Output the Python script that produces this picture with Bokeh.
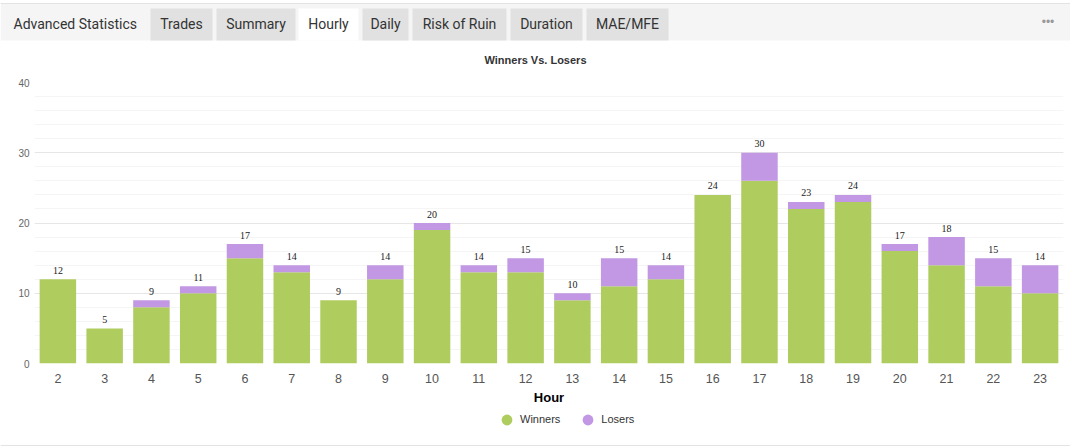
from bokeh.plotting import figure
from bokeh.models import (ColumnDataSource, Range1d, FactorRange, SingleIntervalTicker,
                          Legend, LegendItem)
from bokeh.layouts import column
from bokeh.embed import file_html
from bokeh.resources import INLINE
from bokeh.core.properties import value

# ---- data ----
hours = [str(h) for h in range(2, 24)]
winners = [12, 5, 8, 10, 15, 13, 9, 12, 19, 13, 13, 9, 11, 12, 24, 26, 22, 23, 16, 14, 11, 10]
losers = [0, 0, 1, 1, 2, 1, 0, 2, 1, 1, 2, 1, 4, 2, 0, 4, 1, 1, 1, 4, 4, 4]
series_names = ["Winners", "Losers"]
tab_names = ["Trades", "Summary", "Hourly", "Daily", "Risk of Ruin", "Duration", "MAE/MFE"]
active_tab = "Hourly"
header_title = "Advanced Statistics"
chart_title = "Winners Vs. Losers"
x_title = "Hour"

# ---- layout (canvas pixels) ----
tab_left = [150, 216, 298, 362, 412, 510, 586]
tab_right = [212, 295, 358, 408, 506, 582, 668]

GREEN = "#afcd5f"
PURPLE = "#c297e3"
SANS = "Liberation Sans"
W = 1070


def blank(height):
    f = figure(width=W, height=height, x_range=Range1d(0, W), y_range=Range1d(height, 0),
               output_backend="svg", toolbar_location=None, min_border=0, frame_align=False)
    f.axis.visible = False
    f.grid.visible = False
    f.outline_line_color = None
    f.background_fill_color = "white"
    f.border_fill_color = "white"
    return f


# ---- header (tabs + chart title) ----
top = blank(70)
top.quad(left=[0], right=[W], top=[3], bottom=[40], fill_color="#f5f5f5", line_color=None)
top.quad(left=[0], right=[W], top=[2.5], bottom=[3.5], fill_color="#e3e3e3", line_color=None)
tab_src = ColumnDataSource(dict(
    left=tab_left, right=tab_right, name=tab_names,
    fill=["white" if t == active_tab else "#e1e1e1" for t in tab_names],
    cx=[(a + b) / 2 for a, b in zip(tab_left, tab_right)]))
top.quad(left="left", right="right", top=8, bottom=40, fill_color="fill", line_color=None,
         source=tab_src)
top.text(x="cx", y=23, text="name", source=tab_src, text_align="center", text_baseline="middle",
         text_font=value("Roboto"), text_font_size="14px", text_color="#333333")
top.text(x=[13], y=[23], text=[header_title], text_align="left", text_baseline="middle",
         text_font=value("Roboto"), text_font_size="14px", text_color="#333333")
top.text(x=[1047.5], y=[21], text=["•••"], text_align="center", text_baseline="middle",
         text_font=value(SANS), text_font_size="12px", text_color="#999999")
top.text(x=[535], y=[59], text=[chart_title], text_align="center", text_baseline="middle",
         text_font=value(SANS), text_font_size="11px", text_font_style="bold",
         text_color="#333333")

# ---- chart ----
totals = [w + l for w, l in zip(winners, losers)]
src = ColumnDataSource(dict(hour=hours, Winners=winners, Losers=losers, total=totals,
                            label=[str(t) for t in totals]))

p = figure(width=W, height=337, x_range=FactorRange(factors=hours, range_padding=0),
           y_range=Range1d(0, 40), output_backend="svg", toolbar_location=None,
           min_border_top=12, min_border_left=34, min_border_right=7, min_border_bottom=43,
           frame_align=False)
p.outline_line_color = None
p.background_fill_color = "white"
p.border_fill_color = "white"

p.vbar_stack(series_names, x="hour", width=0.78, color=[GREEN, PURPLE], line_color=None,
             source=src)
p.text(x="hour", y="total", text="label", source=src, y_offset=-9, text_align="center",
       text_baseline="middle", text_font=value("Liberation Serif"), text_font_size="10px",
       text_color="#222222")

p.yaxis.ticker = SingleIntervalTicker(interval=10, num_minor_ticks=5)
p.yaxis.major_tick_line_color = None
p.yaxis.minor_tick_line_color = None
p.yaxis.major_tick_out = 0
p.yaxis.minor_tick_out = 0
p.yaxis.axis_line_color = None
p.yaxis.major_label_standoff = 5
p.yaxis.major_label_text_font_size = "10px"
p.yaxis.major_label_text_color = "#666666"
p.yaxis.major_label_text_font = SANS
p.ygrid.grid_line_color = "#e6e6e6"
p.ygrid.minor_grid_line_color = "#f5f5f5"
p.xgrid.grid_line_color = None

p.xaxis.axis_label = x_title
p.xaxis.axis_label_text_font_style = "bold"
p.xaxis.axis_label_text_font_size = "13px"
p.xaxis.axis_label_text_color = "#000000"
p.xaxis.axis_label_text_font = SANS
p.xaxis.axis_label_standoff = 4
p.xaxis.major_tick_out = 0
p.xaxis.major_label_standoff = 10
p.xaxis.major_label_text_font_size = "12.5px"
p.xaxis.major_label_text_color = "#555555"
p.xaxis.major_label_text_font = SANS
p.xaxis.axis_line_color = None
p.xaxis.major_tick_line_color = None
p.xaxis.minor_tick_line_color = None

# ---- legend strip ----
bot = blank(40)
bot.quad(left=[0], right=[W], top=[37.5], bottom=[38.5], fill_color="#e3e3e3", line_color=None)
# off-canvas proxies so the legend draws its circle swatches
r1 = bot.scatter(x=[-100], y=[-100], size=11, marker="circle", fill_color=GREEN, line_color=None)
r2 = bot.scatter(x=[-100], y=[-100], size=11, marker="circle", fill_color=PURPLE, line_color=None)
legend = Legend(items=[LegendItem(label=series_names[0], renderers=[r1]),
                       LegendItem(label=series_names[1], renderers=[r2])],
                orientation="horizontal", location=(493, 14.5), border_line_color=None,
                background_fill_alpha=0, label_text_font_size="11px",
                label_text_color="#333333", label_text_font=SANS, glyph_width=27,
                glyph_height=27, label_standoff=0, spacing=14, padding=0, margin=0)
bot.add_layout(legend, "center")

layout = column(top, p, bot, spacing=0)
open("out.html", "w").write(file_html(layout, INLINE))
